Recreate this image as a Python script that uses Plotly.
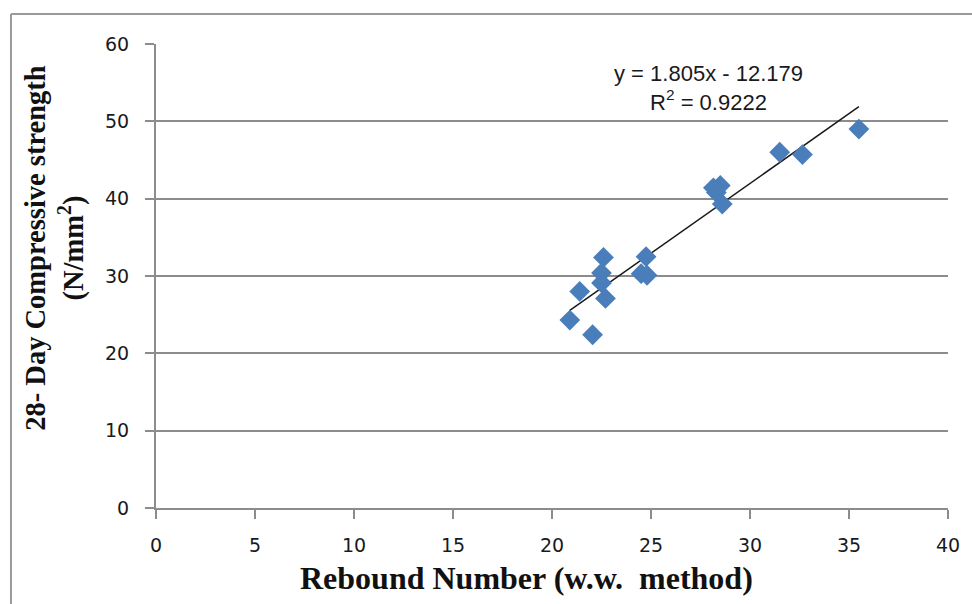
import plotly.graph_objects as go

# Data
rebound = [20.9, 22.05, 21.4, 22.6, 22.5, 22.5, 22.7, 24.75, 24.5, 24.8,
           28.15, 28.5, 28.3, 28.6, 31.5, 32.65, 35.5]
strength = [24.3, 22.4, 28.0, 32.4, 30.4, 29.1, 27.1, 32.5, 30.3, 30.1,
            41.4, 41.7, 40.8, 39.3, 46.0, 45.7, 49.0]

slope = 1.805
intercept = -12.179
r2 = 0.9222

x_ticks = [0, 5, 10, 15, 20, 25, 30, 35, 40]
y_ticks = [0, 10, 20, 30, 40, 50, 60]

x_title = "Rebound Number (w.w.  method)"
y_title = "28- Day Compressive strength<br>(N/mm<sup>2</sup>)"

trend_x = [min(rebound), max(rebound)]
trend_y = [slope * v + intercept for v in trend_x]

fig = go.Figure()
fig.add_trace(go.Scatter(
    x=trend_x, y=trend_y, mode="lines",
    line=dict(color="#1a1a1a", width=1.5), showlegend=False, hoverinfo="skip"))
fig.add_trace(go.Scatter(
    x=rebound, y=strength, mode="markers",
    marker=dict(symbol="diamond", size=16, color="#4A7EBB",
                line=dict(width=0)),
    showlegend=False))

tick_font = dict(family="DejaVu Sans", size=19, color="#1a1a1a")

fig.update_xaxes(
    range=[0, 40], tickvals=x_ticks, ticktext=[str(v) for v in x_ticks],
    showgrid=False, zeroline=False, showline=True, linecolor="#8c8c8c", linewidth=2,
    ticks="outside", ticklen=9, tickcolor="#8c8c8c", tickwidth=1.5,
    tickfont=tick_font, ticklabelstandoff=10)
fig.update_yaxes(
    range=[0, 60], tickvals=y_ticks, ticktext=[str(v) for v in y_ticks],
    showgrid=True, gridcolor="#8c8c8c", gridwidth=2, zeroline=False,
    showline=True, linecolor="#8c8c8c", linewidth=2,
    ticks="outside", ticklen=9, tickcolor="#8c8c8c", tickwidth=1.5,
    tickfont=tick_font, ticklabelstandoff=12)

fig.update_layout(
    width=972, height=604,
    margin=dict(l=156, r=24, t=44, b=96),
    paper_bgcolor="white", plot_bgcolor="white",
    annotations=[
        dict(text="<b>" + x_title + "</b>", xref="paper", yref="paper", x=0.468, y=-0.151,
             showarrow=False, xanchor="center", yanchor="middle",
             font=dict(family="Liberation Serif", size=32, color="#111111")),
        dict(text="<b>" + y_title + "</b>", xref="paper", yref="paper", x=-0.128, y=0.56,
             showarrow=False, xanchor="center", yanchor="middle", textangle=-90,
             font=dict(family="Liberation Serif", size=28.5, color="#111111")),
        dict(text="y = %.3fx - %.3f<br>R<sup>2</sup> = %.4f" % (slope, -intercept, r2),
             xref="paper", yref="paper", x=0.698, y=0.905,
             showarrow=False, xanchor="center", yanchor="middle",
             font=dict(family="Liberation Sans", size=22, color="#1a1a1a")),
    ],
    shapes=[
        dict(type="line", xref="paper", yref="paper", x0=-0.1831, x1=1.1,
             y0=1.0647, y1=1.0647, line=dict(color="#9a9a9a", width=2)),
        dict(type="line", xref="paper", yref="paper", x0=-0.1831, x1=-0.1831,
             y0=1.0647, y1=-0.25, line=dict(color="#9a9a9a", width=2)),
    ],
)

fig.write_html("out.html")
